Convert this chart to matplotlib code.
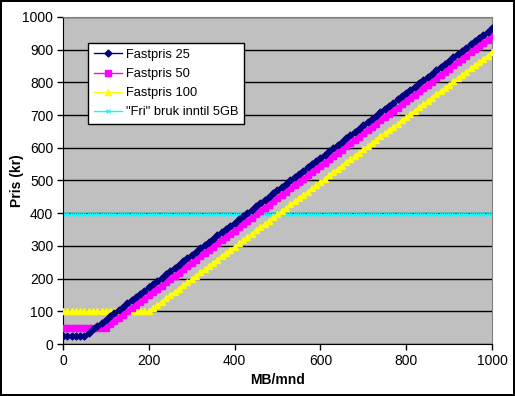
import matplotlib.pyplot as plt

plt.rcParams["font.family"] = ["Liberation Sans", "DejaVu Sans"]

# MB per month (x axis), one point every 10 MB
mb = list(range(0, 1001, 10))

fastpris_25 = [
    25, 25, 25, 25, 25, 25,
    34.9, 44.8, 54.7, 64.6, 74.5, 84.4, 94.3, 104.2, 114.1, 124.0,
    133.9, 143.8, 153.7, 163.6, 173.5, 183.4, 193.3, 203.2, 213.1, 223.0,
    232.9, 242.8, 252.7, 262.6, 272.5, 282.4, 292.3, 302.2, 312.1, 322.0,
    331.9, 341.8, 351.7, 361.6, 371.5, 381.4, 391.3, 401.2, 411.1, 421.0,
    430.9, 440.8, 450.7, 460.6, 470.5, 480.4, 490.3, 500.2, 510.1, 520.0,
    529.9, 539.8, 549.7, 559.6, 569.5, 579.4, 589.3, 599.2, 609.1, 619.0,
    628.9, 638.8, 648.7, 658.6, 668.5, 678.4, 688.3, 698.2, 708.1, 718.0,
    727.9, 737.8, 747.7, 757.6, 767.5, 777.4, 787.3, 797.2, 807.1, 817.0,
    826.9, 836.8, 846.7, 856.6, 866.5, 876.4, 886.3, 896.2, 906.1, 916.0,
    925.9, 935.8, 945.7, 955.6, 965.5,
]

fastpris_50 = [
    50, 50, 50, 50, 50, 50, 50, 50, 50, 50, 50,
    59.9, 69.8, 79.7, 89.6, 99.5, 109.4, 119.3, 129.2, 139.1, 149.0,
    158.9, 168.8, 178.7, 188.6, 198.5, 208.4, 218.3, 228.2, 238.1, 248.0,
    257.9, 267.8, 277.7, 287.6, 297.5, 307.4, 317.3, 327.2, 337.1, 347.0,
    356.9, 366.8, 376.7, 386.6, 396.5, 406.4, 416.3, 426.2, 436.1, 446.0,
    455.9, 465.8, 475.7, 485.6, 495.5, 505.4, 515.3, 525.2, 535.1, 545.0,
    554.9, 564.8, 574.7, 584.6, 594.5, 604.4, 614.3, 624.2, 634.1, 644.0,
    653.9, 663.8, 673.7, 683.6, 693.5, 703.4, 713.3, 723.2, 733.1, 743.0,
    752.9, 762.8, 772.7, 782.6, 792.5, 802.4, 812.3, 822.2, 832.1, 842.0,
    851.9, 861.8, 871.7, 881.6, 891.5, 901.4, 911.3, 921.2, 931.1, 941.0,
]

fastpris_100 = [
    100, 100, 100, 100, 100, 100, 100, 100, 100, 100, 100,
    100, 100, 100, 100, 100, 100, 100, 100, 100, 100,
    109.9, 119.8, 129.7, 139.6, 149.5, 159.4, 169.3, 179.2, 189.1, 199.0,
    208.9, 218.8, 228.7, 238.6, 248.5, 258.4, 268.3, 278.2, 288.1, 298.0,
    307.9, 317.8, 327.7, 337.6, 347.5, 357.4, 367.3, 377.2, 387.1, 397.0,
    406.9, 416.8, 426.7, 436.6, 446.5, 456.4, 466.3, 476.2, 486.1, 496.0,
    505.9, 515.8, 525.7, 535.6, 545.5, 555.4, 565.3, 575.2, 585.1, 595.0,
    604.9, 614.8, 624.7, 634.6, 644.5, 654.4, 664.3, 674.2, 684.1, 694.0,
    703.9, 713.8, 723.7, 733.6, 743.5, 753.4, 763.3, 773.2, 783.1, 793.0,
    802.9, 812.8, 822.7, 832.6, 842.5, 852.4, 862.3, 872.2, 882.1, 892.0,
]

# flat price for "free" use up to 5 GB
fri_bruk = [399] * len(mb)

labels = ["Fastpris 25", "Fastpris 50", "Fastpris 100", '"Fri" bruk inntil 5GB']
yticks = list(range(0, 1001, 100))
xticks = list(range(0, 1001, 200))


def main():
    fig = plt.figure(figsize=(5.15, 3.96), dpi=100, facecolor="white",
                     edgecolor="black", linewidth=1.5)
    ax = fig.add_axes([0.1223, 0.1313, 0.9553 - 0.1223, 0.9571 - 0.1313])
    ax.set_facecolor("#C0C0C0")

    ax.plot(mb, fastpris_25, color="#000080", marker="D", markersize=3.5,
            lw=1, label=labels[0], zorder=5)
    ax.plot(mb, fastpris_50, color="#FF00FF", marker="s", markersize=4.5,
            lw=1, label=labels[1], zorder=4)
    ax.plot(mb, fastpris_100, color="#FFFF00", marker="^", markersize=5,
            lw=1, label=labels[2], zorder=3)
    ax.plot(mb, fri_bruk, color="#00FFFF", marker="x", markersize=3,
            markeredgewidth=0.8, lw=1, label=labels[3], zorder=2)

    ax.set_xlim(0, 1000)
    ax.set_ylim(0, 1000)
    ax.set_xticks(xticks)
    ax.set_yticks(yticks)
    ax.tick_params(direction="out", length=4, width=1, color="black",
                   labelsize=10, pad=3)
    ax.yaxis.grid(True, color="black", lw=1)
    ax.set_axisbelow(True)

    for side in ["top", "right"]:
        ax.spines[side].set_color("#808080")
    for side in ["left", "bottom"]:
        ax.spines[side].set_color("black")

    ax.set_xlabel("MB/mnd", fontsize=10, fontweight="bold", labelpad=4)
    ax.set_ylabel("Pris (kr)", fontsize=10, fontweight="bold", labelpad=-1)

    leg = ax.legend(loc="upper left", bbox_to_anchor=(0.058, 0.92),
                    borderaxespad=0, fontsize=9.3, fancybox=False,
                    framealpha=1, edgecolor="black", handlelength=2.2,
                    labelspacing=0.55, borderpad=0.45, handletextpad=0.3)
    leg.get_frame().set_linewidth(1)
    leg.set_zorder(10)

    fig.savefig("out.png", dpi=100, facecolor="white", edgecolor="black")


if __name__ == "__main__":
    main()
